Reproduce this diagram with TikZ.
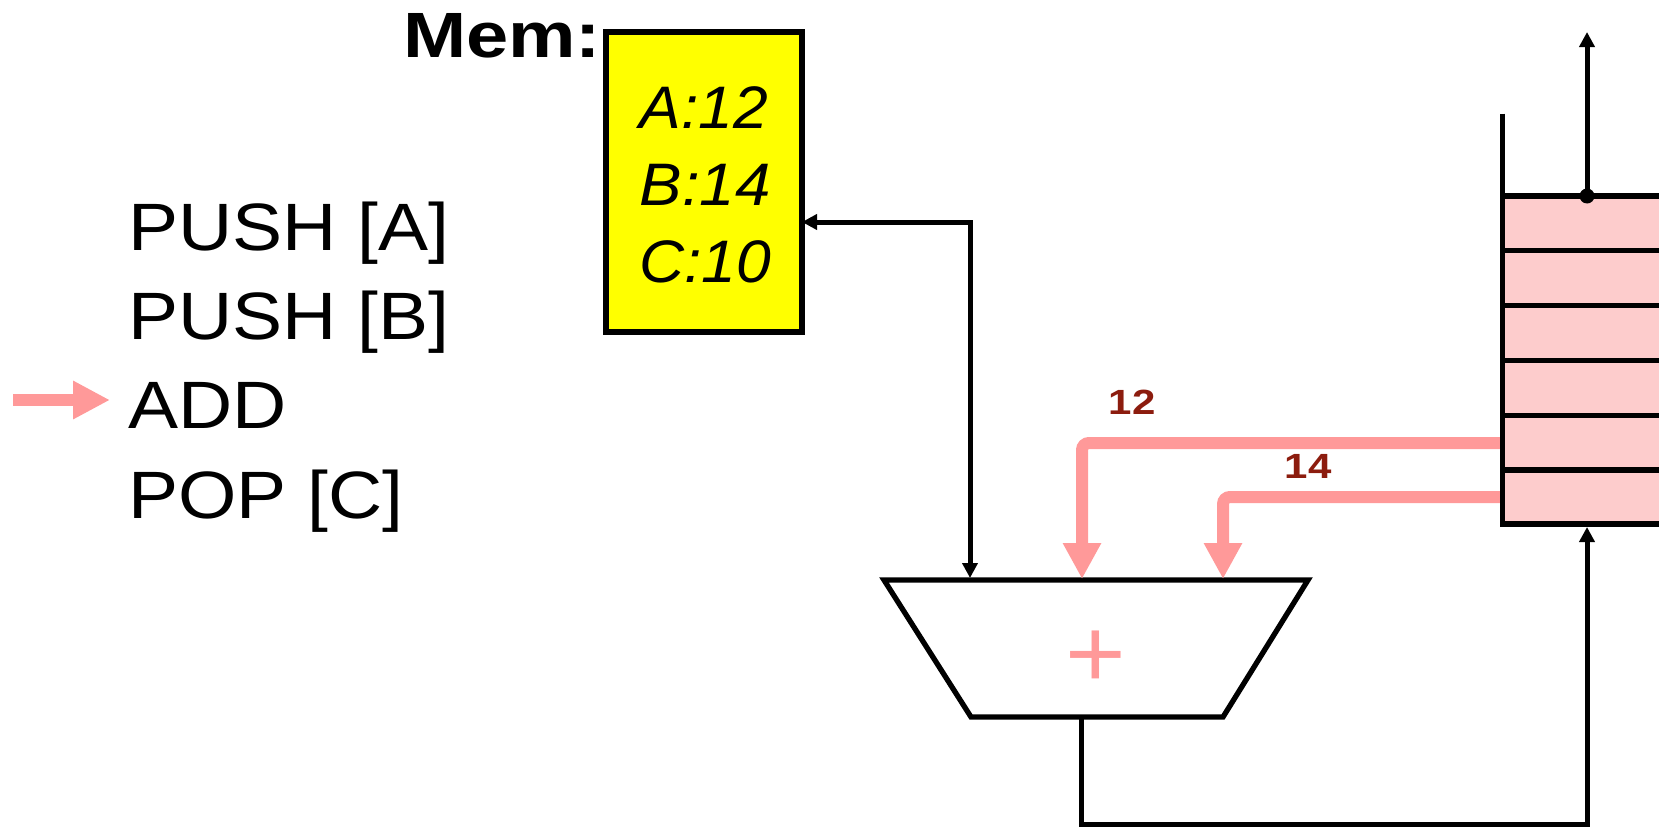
\documentclass[tikz,border=0pt]{standalone}
\usepackage{fontspec}
\setmainfont{Liberation Sans}
\usetikzlibrary{arrows.meta}
\definecolor{memyellow}{RGB}{255,255,0}
\definecolor{pinkarrow}{RGB}{255,153,153}
\definecolor{stackfill}{RGB}{253,204,204}
\definecolor{labred}{RGB}{140,28,14}
\newcommand\widen[2]{\scalebox{#1}[1]{#2}}
\begin{document}
\begin{tikzpicture}[x=1pt,y=-1pt,
  prog/.style={anchor=base west, inner sep=0pt, font=\fontsize{67}{67}\selectfont},
  memtxt/.style={anchor=base, inner sep=0pt, font=\fontsize{60}{60}\selectfont\itshape},
  vallab/.style={anchor=base, inner sep=0pt, text=labred, font=\fontsize{35}{35}\selectfont\bfseries},
  thick line/.style={line width=5.3pt},
  wire/.style={line width=5pt},
  blackarrow/.style={wire, -{Triangle[length=15pt,width=15pt]}},
  pinkflow/.style={line width=12pt, draw=pinkarrow, rounded corners=7pt, -{Triangle[length=36pt,width=36pt]}},
]
\useasboundingbox (0,0) rectangle (1659,827);

% program listing
\node[prog] (l1) at (128,250) {\widen{1.12}{PUSH [A]}};
\node[prog] (l2) at (128,339) {\widen{1.12}{PUSH [B]}};
\node[prog] (l3) at (128,428) {\widen{1.12}{ADD}};
\node[prog] (l4) at (128,518) {\widen{1.12}{POP [C]}};
\coordinate (pcstart) at (13,400);
\coordinate (pcend) at (110,400);
\draw[line width=12pt, draw=pinkarrow, -{Triangle[length=37pt,width=36pt]}] (pcstart) -- (pcend);

% memory
\node[anchor=base west, inner sep=0pt, font=\fontsize{64}{64}\selectfont\bfseries] (memlabel) at (403,57) {\widen{1.185}{Mem:}};
\node[draw, thick line, fill=memyellow, minimum width=196pt, minimum height=300pt, inner sep=0pt, outer sep=0pt] (mem) at (704,182) {};
\node[memtxt] (ma) at (704,128) {\widen{1.04}{A:12}};
\node[memtxt] (mb) at (705,205) {\widen{1.06}{B:14}};
\node[memtxt] (mc) at (705,282) {\widen{1.04}{C:10}};

% ALU
\coordinate (tl) at (884,580);
\coordinate (tr) at (1308,580);
\coordinate (br) at (1223,717);
\coordinate (bl) at (971,717);
\draw[thick line, line join=miter] (tl) -- (tr) -- (br) -- (bl) -- cycle;
\node[inner sep=0pt, text=pinkarrow, font=\fontsize{98}{98}\selectfont] (alu) at (1096,659) {\widen{1.06}{+}};
\coordinate (aluin) at (970,578);
\coordinate (aluA) at (1082,579);
\coordinate (aluB) at (1223,579);
\coordinate (aluout) at (1081,717);

% memory <-> ALU
\coordinate (memport) at (mem.east |- 0,222);
\coordinate (memcorner) at (970,222);
\draw[wire, {Triangle[length=15pt,width=15pt]}-{Triangle[length=15pt,width=15pt]}] (memport) -- (memcorner) -- (aluin);

% stack
\coordinate (sA) at (1502,443);
\coordinate (sB) at (1502,497);
\draw[pinkflow] (sA) -| (aluA);
\draw[pinkflow] (sB) -| (aluB);
\fill[stackfill] (1502,196) rectangle (1665,524);
\foreach \yy in {196,250.7,305.4,360.7,415.4,470,524} {
  \draw[thick line] (1500,\yy) -- (1665,\yy);
}
\draw[thick line] (1502.5,113.5) -- (1502.5,526.6);
\coordinate (stacktop) at (1587,196);
\coordinate (stackout) at (1587,32);
\coordinate (stackbot) at (1587,527);
\fill (stacktop) circle (7.5pt);
\draw[blackarrow] (stacktop) -- (stackout);

% ALU result back to stack
\coordinate (loopa) at (1081,824);
\coordinate (loopb) at (1587,824);
\draw[wire, -{Triangle[length=15pt,width=15pt]}] (aluout) -- (loopa) -- (loopb) -- (stackbot);

% values
\node[vallab] (v12) at (1132,414) {\widen{1.2}{12}};
\node[vallab] (v14) at (1308,478) {\widen{1.2}{14}};
\end{tikzpicture}
\end{document}
